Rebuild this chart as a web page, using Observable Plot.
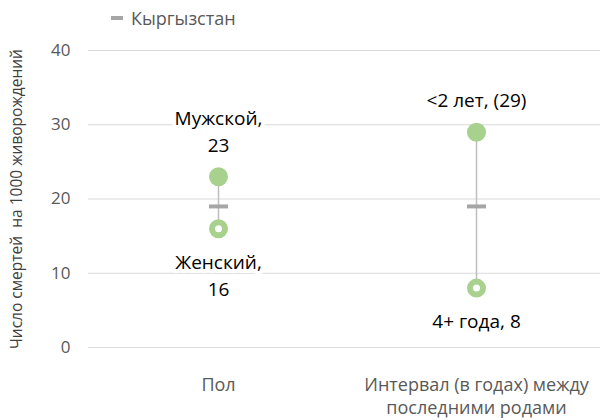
<!DOCTYPE html>
<html>
<head>
<meta charset="utf-8">
<script src="https://cdn.jsdelivr.net/npm/d3@7"></script>
<script src="https://cdn.jsdelivr.net/npm/@observablehq/plot@0.6"></script>
<style>
  body { margin: 0; background: #fff; }
  #wrap { position: relative; width: 600px; height: 420px; font-family: "Open Sans", sans-serif; }
  #legend { position: absolute; top: 6px; left: 111px; font-size: 18px; color: #595959; display: flex; align-items: center; }
  #legend .sw { display: inline-block; width: 12px; height: 4px; background: #a6a6a6; margin-right: 8px; }
</style>
</head>
<body>
<div id="wrap">
  <div id="chart"></div>
  <div id="legend"><span class="sw"></span><span id="legname"></span></div>
</div>
<script>
const categories = ["Пол", "Интервал (в годах) между\nпоследними родами"];
const maxValues = [23, 29];
const minValues = [16, 8];
const national = [19, 19];
const maxLabels = ["Мужской,\n23", "<2 лет, (29)"];
const minLabels = ["Женский,\n16", "4+ года, 8"];
const yTicks = [0, 10, 20, 30, 40];
const legendName = "Кыргызстан";
const yTitle = "Число смертей  на 1000 живорождений";

document.getElementById("legname").textContent = legendName;

const rows = categories.map((c, i) => ({
  cat: c, max: maxValues[i], min: minValues[i], nat: national[i],
  maxLabel: maxLabels[i], minLabel: minLabels[i]
}));

const green = "#a9d18e";
const dash = { draw(ctx) { ctx.rect(-9.5, -2, 19, 4); } };

const chart = Plot.plot({
  width: 600,
  height: 420,
  marginTop: 50,
  marginBottom: 73,
  marginLeft: 88,
  marginRight: 0,
  style: { fontFamily: "Open Sans, sans-serif", background: "#fff" },
  x: { type: "point", domain: categories, range: [218, 476], padding: 0, label: null },
  y: { domain: [0, 40], ticks: yTicks, label: null },
  marks: [
    Plot.ruleY(yTicks, { stroke: "#d9d9d9", strokeWidth: 1 }),
    Plot.axisY({ ticks: yTicks, tickSize: 0, tickPadding: 18, fontSize: 17, fill: "#595959", label: null }),
    Plot.text([yTitle], {
      frameAnchor: "left", textAnchor: "middle", dx: -71, rotate: -90, fontSize: 15.5, fill: "#404040"
    }),
    Plot.axisX({ tickSize: 0, tickPadding: 27, fontSize: 18, fill: "#595959", lineHeight: 1.28, label: null, lineAnchor: "top" }),
    Plot.ruleX(rows, { x: "cat", y1: "min", y2: "max", stroke: "#bfbfbf", strokeWidth: 1.5 }),
    Plot.dot(rows, { x: "cat", y: "nat", symbol: dash, r: 5, fill: "#a6a6a6", stroke: "none" }),
    Plot.dot(rows, { x: "cat", y: "max", r: 9.5, fill: green, stroke: "none" }),
    Plot.dot(rows, { x: "cat", y: "min", r: 6.5, fill: "#fff", stroke: green, strokeWidth: 6 }),
    Plot.text(rows, { x: "cat", y: "max", text: "maxLabel", lineAnchor: "bottom", dy: -25, fontSize: 19, lineHeight: 1.42, fill: "#000", stroke: "#fff", strokeWidth: 8 }),
    Plot.text(rows, { x: "cat", y: "min", text: "minLabel", lineAnchor: "top", dy: 21, fontSize: 19, lineHeight: 1.42, fill: "#000", stroke: "#fff", strokeWidth: 8 })
  ]
});

document.getElementById("chart").appendChild(chart);
</script>
</body>
</html>
